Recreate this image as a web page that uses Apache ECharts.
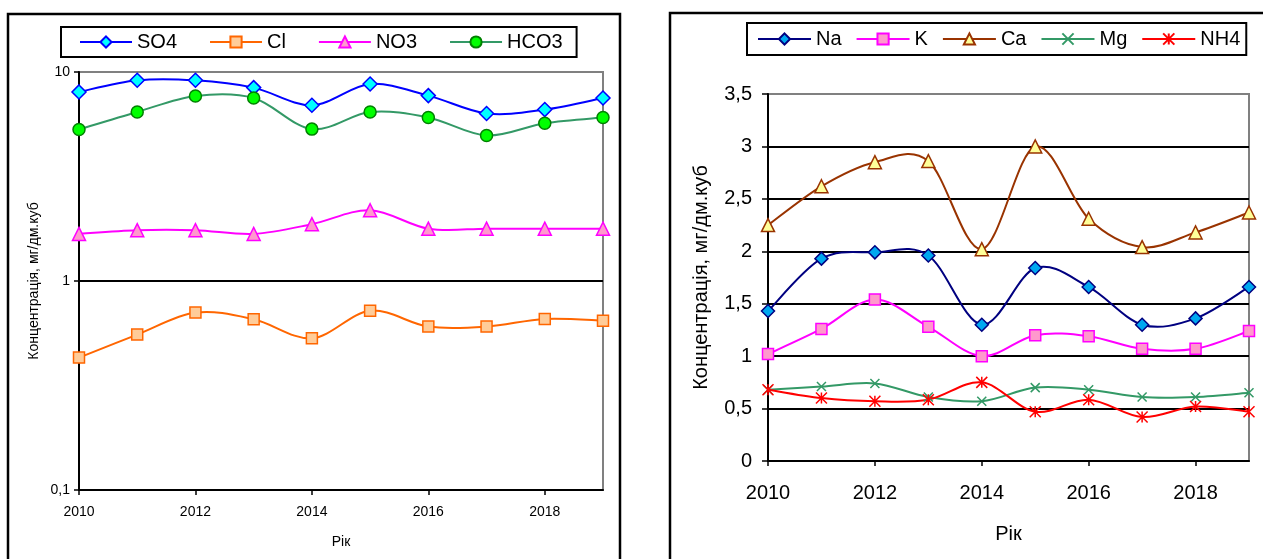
<!DOCTYPE html>
<html>
<head>
<meta charset="utf-8">
<script src="https://cdn.jsdelivr.net/npm/echarts@6/dist/echarts.min.js"></script>
<style>
  html, body { margin: 0; padding: 0; background: #fff; }
  #chart { width: 1263px; height: 559px; }
</style>
</head>
<body>
<div id="chart"></div>
<script>
// Years of observation
const years = [2010, 2011, 2012, 2013, 2014, 2015, 2016, 2017, 2018, 2019];

// Anions, mg/dm3 (log scale panel)
const so4  = [8.03, 9.13, 9.13, 8.42, 6.93, 8.76, 7.71, 6.33, 6.61, 7.51];
const cl   = [0.43, 0.554, 0.706, 0.656, 0.532, 0.721, 0.605, 0.605, 0.658, 0.646];
const no3  = [1.68, 1.75, 1.75, 1.68, 1.87, 2.18, 1.78, 1.78, 1.78, 1.78];
const hco3 = [5.31, 6.44, 7.68, 7.51, 5.33, 6.44, 6.06, 4.97, 5.69, 6.06];

// Cations, mg/dm3 (linear panel)
const na  = [1.43, 1.93, 1.99, 1.96, 1.30, 1.84, 1.66, 1.30, 1.36, 1.66];
const k   = [1.02, 1.26, 1.54, 1.28, 1.00, 1.20, 1.19, 1.07, 1.07, 1.24];
const ca  = [2.25, 2.62, 2.85, 2.86, 2.02, 3.00, 2.31, 2.04, 2.18, 2.37];
const mg  = [0.68, 0.71, 0.74, 0.61, 0.57, 0.70, 0.68, 0.61, 0.61, 0.65];
const nh4 = [0.68, 0.60, 0.57, 0.585, 0.75, 0.47, 0.585, 0.42, 0.52, 0.47];

const leftNames  = ['SO4', 'Cl', 'NO3', 'HCO3'];
const rightNames = ['Na', 'K', 'Ca', 'Mg', 'NH4'];
const yName = 'Концентрація, мг/дм.куб';
const xName = 'Рік';

const FONT = '"Liberation Sans", Arial, sans-serif';
const pairs = arr => years.map((y, i) => [y, arr[i]]);
const comma = v => String(v).replace('.', ',');
const plain = v => String(v);

const crossPath = 'path://M0,0L10,10M10,0L0,10';
const starPath = 'path://M5,0L5,10M0,0L10,10M10,0L0,10';

// Markers + legend entry; the connecting line itself is hidden here
function markerSeries(name, data, gi, line, sym, size, fill, border, bw) {
  return {
    name, type: 'line', xAxisIndex: gi, yAxisIndex: gi,
    data: pairs(data), showAllSymbol: true, z: 3,
    symbol: sym, symbolSize: size,
    lineStyle: { color: line, width: 2, opacity: 0 },
    itemStyle: { color: fill, borderColor: border, borderWidth: bw },
    emphasis: { disabled: true }, animation: false
  };
}

// Smoothed connecting curve (cardinal spline, tension 1/6) in pixel space
function curveSeries(data, gi, color) {
  return {
    type: 'custom', xAxisIndex: gi, yAxisIndex: gi, z: 2,
    data: pairs(data), silent: true, animation: false,
    renderItem: function (params, api) {
      const i = params.dataIndex;
      const n = data.length;
      if (i >= n - 1) return null;
      const p = j => api.coord([years[Math.max(0, Math.min(n - 1, j))],
                                data[Math.max(0, Math.min(n - 1, j))]]);
      const p0 = p(i - 1), p1 = p(i), p2 = p(i + 1), p3 = p(i + 2);
      return {
        type: 'bezierCurve',
        shape: {
          x1: p1[0], y1: p1[1], x2: p2[0], y2: p2[1],
          cpx1: p1[0] + (p2[0] - p0[0]) / 6, cpy1: p1[1] + (p2[1] - p0[1]) / 6,
          cpx2: p2[0] - (p3[0] - p1[0]) / 6, cpy2: p2[1] - (p3[1] - p1[1]) / 6
        },
        style: { stroke: color, lineWidth: 2, fill: 'none' }
      };
    }
  };
}

const defs = [
  ['SO4', so4, 0, '#0000FF', 'diamond', 14, '#00FFFF', '#0000FF', 1.5],
  ['Cl', cl, 0, '#FF6600', 'rect', 11, '#FFCC99', '#FF6600', 1.5],
  ['NO3', no3, 0, '#FF00FF', 'triangle', 13, '#FF99CC', '#FF00FF', 1.5],
  ['HCO3', hco3, 0, '#339966', 'circle', 12, '#00FF00', '#008000', 1.5],
  ['Na', na, 1, '#000080', 'diamond', 13, '#00A8F0', '#000080', 1.5],
  ['K', k, 1, '#FF00FF', 'rect', 11, '#FF99CC', '#FF00FF', 1.5],
  ['Ca', ca, 1, '#993300', 'triangle', 13, '#FFFF99', '#993300', 1.5],
  ['Mg', mg, 1, '#339966', crossPath, 9, 'none', '#339966', 1.5],
  ['NH4', nh4, 1, '#FF0000', starPath, 11, 'none', '#FF0000', 1.5]
];

const series = [];
defs.forEach(d => series.push(curveSeries(d[1], d[2], d[3])));
defs.forEach(d => series.push(markerSeries.apply(null, d)));

const axisBase = {
  axisLine: { show: true, onZero: false, lineStyle: { color: '#000', width: 2 } },
  nameTextStyle: { color: '#000', fontFamily: FONT }
};

const legendBase = {
  orient: 'horizontal', borderColor: '#000', borderWidth: 2, selectedMode: false,
  itemHeight: 14, lineStyle: { opacity: 1, width: 2 },
  textStyle: { fontSize: 20, color: '#000', fontFamily: FONT }
};

const chart = echarts.init(document.getElementById('chart'), null, { renderer: 'canvas' });
chart.setOption({
  backgroundColor: '#fff',
  animation: false,
  graphic: [
    { type: 'rect', shape: { x: 8, y: 14, width: 612, height: 570 },
      style: { fill: 'none', stroke: '#000', lineWidth: 2.5 }, z: 100 },
    { type: 'rect', shape: { x: 670, y: 13, width: 620, height: 570 },
      style: { fill: 'none', stroke: '#000', lineWidth: 2.5 }, z: 100 }
  ],
  legend: [
    Object.assign({}, legendBase, {
      data: leftNames, left: 61, top: 27,
      padding: [5, 14, 5, 18], itemGap: 32, itemWidth: 52
    }),
    Object.assign({}, legendBase, {
      data: rightNames, left: 747, top: 23,
      padding: [6, 6, 6, 10], itemGap: 14, itemWidth: 53
    })
  ],
  grid: [
    { left: 79, top: 72, width: 524, height: 418, show: true,
      borderColor: '#808080', borderWidth: 2, backgroundColor: '#fff' },
    { left: 768, top: 94, width: 481, height: 367, show: true,
      borderColor: '#808080', borderWidth: 2, backgroundColor: '#fff' }
  ],
  xAxis: [
    Object.assign({}, axisBase, {
      gridIndex: 0, type: 'value', min: 2010, max: 2019, interval: 2,
      axisTick: { show: true, length: 5, lineStyle: { color: '#000', width: 1.5 } },
      axisLabel: { color: '#000', fontSize: 14, fontFamily: FONT, margin: 15,
        showMaxLabel: false, formatter: plain },
      splitLine: { show: false },
      name: xName, nameLocation: 'middle', nameGap: 45,
      nameTextStyle: { color: '#000', fontSize: 14, fontFamily: FONT }
    }),
    Object.assign({}, axisBase, {
      gridIndex: 1, type: 'value', min: 2010, max: 2019, interval: 2,
      axisTick: { show: true, length: 5, lineStyle: { color: '#000', width: 1.5 } },
      axisLabel: { color: '#000', fontSize: 20, fontFamily: FONT, margin: 22,
        showMaxLabel: false, formatter: plain },
      splitLine: { show: false },
      name: xName, nameLocation: 'middle', nameGap: 63,
      nameTextStyle: { color: '#000', fontSize: 20, fontFamily: FONT }
    })
  ],
  yAxis: [
    Object.assign({}, axisBase, {
      gridIndex: 0, type: 'log', logBase: 10, min: 0.1, max: 10,
      axisTick: { show: true, length: 5, lineStyle: { color: '#000', width: 1.5 } },
      axisLabel: { color: '#000', fontSize: 14, fontFamily: FONT, margin: 9,
        formatter: comma },
      splitLine: { show: true, showMinLine: false, showMaxLine: false,
        lineStyle: { color: '#000', width: 2 } },
      minorTick: { show: false },
      name: yName, nameLocation: 'middle', nameGap: 38, nameRotate: 90,
      nameTextStyle: { color: '#000', fontSize: 14, fontFamily: FONT }
    }),
    Object.assign({}, axisBase, {
      gridIndex: 1, type: 'value', min: 0, max: 3.5, interval: 0.5,
      axisTick: { show: true, length: 6, lineStyle: { color: '#000', width: 1.5 } },
      axisLabel: { color: '#000', fontSize: 20, fontFamily: FONT, margin: 16,
        formatter: comma },
      splitLine: { show: true, showMinLine: false, showMaxLine: false,
        lineStyle: { color: '#000', width: 2 } },
      name: yName, nameLocation: 'middle', nameGap: 57, nameRotate: 90,
      nameTextStyle: { color: '#000', fontSize: 20, fontFamily: FONT }
    })
  ],
  series: series
});
</script>
</body>
</html>
